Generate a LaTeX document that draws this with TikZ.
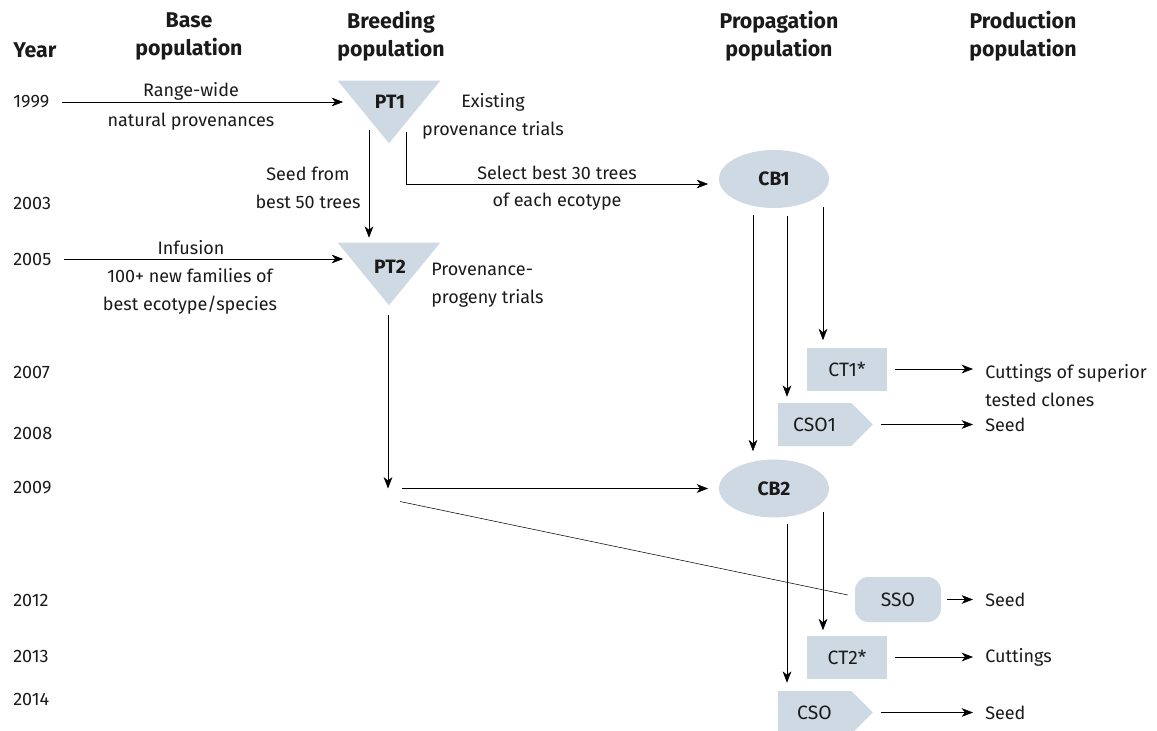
\documentclass[tikz,border=0pt]{standalone}
\usepackage{fontspec}
\setmainfont{Fira Sans}
\usepackage{xcolor}
\definecolor{Cloud}{HTML}{CFD9E4}
\definecolor{Ink}{HTML}{1A1A1A}
\colorlet{cFill}{Cloud}
\colorlet{cText}{Ink}
\usepackage{tikz}
\usetikzlibrary{calc, arrows.meta, shapes.geometric, shapes.symbols, positioning}
\tikzset{
	line width = .6pt,
	>={Stealth[length=8.5pt, width=6.5pt, inset=2.5pt]},
	font = \fontsize{13.5}{21}\selectfont,
	text = cText,
	heading/.style={
		font=\fontsize{16}{21}\selectfont\bfseries,
		align=center,
		inner sep=0pt
	},
	year/.style={
		anchor=west,
		inner sep=0pt
	},
	note/.style={
		align=center,
		inner sep=0pt
	},
	output/.style={
		anchor=west,
		align=left,
		inner ysep=0pt,
		inner xsep=9pt
	},
	unit/.style={
		fill=cFill,
		inner sep=0pt,
		font=\fontsize{14.5}{17}\selectfont
	},
	trial/.style={
		inner sep=0pt,
		minimum width=76.5pt,
		minimum height=46.5pt
	},
	triallabel/.style={
		inner sep=0pt,
		font=\fontsize{14.5}{17}\selectfont\bfseries
	},
	bank/.style={
		unit,
		ellipse,
		minimum width=82.5pt,
		minimum height=43.5pt,
		font=\fontsize{14.5}{17}\selectfont\bfseries
	},
	test/.style={
		unit,
		rectangle,
		minimum width=60pt,
		minimum height=32.25pt
	},
	orchard/.style={
		unit,
		signal,
		signal to=east,
		signal from=nowhere,
		signal pointer angle=90,
		minimum width=71.25pt,
		minimum height=32.25pt
	},
	stand/.style={
		unit,
		rectangle,
		rounded corners=10pt,
		minimum width=64.5pt,
		minimum height=33.75pt
	},
	edge/.style={
		->
	}
}

\begin{document}
\begin{tikzpicture}[x=.75pt, y=-.75pt]
	\useasboundingbox (0,0) rectangle (1157,731);

	% headings
	\node[heading, anchor=west] (hy) at (13,50) {Year};
	\node[heading] (hb) at (189,36) {Base\\population};
	\node[heading] (hr) at (391,36) {Breeding\\population};
	\node[heading] (hp) at (779,36) {Propagation\\population};
	\node[heading] (hd) at (1023,36) {Production\\population};

	\foreach \yr/\yy in {1999/102, 2003/203, 2005/259, 2007/372, 2008/433, 2009/488, 2012/600, 2013/656, 2014/699} {
		\node[year] (y\yr) at (13,\yy) {\yr};
	}

	% breeding population
	\node[trial] (PT1) at (389,112) {};
	\fill[cFill] (PT1.north west) -- (PT1.north east) -- (PT1.south) -- cycle;
	\node[triallabel] (PT1t) at (390,102) {PT1};

	\node[trial] (PT2) at (389,274) {};
	\fill[cFill] (PT2.north west) -- (PT2.north east) -- (PT2.south) -- cycle;
	\node[triallabel] (PT2t) at (390,267) {PT2};

	% propagation population
	\node[bank] (CB1) at (774,179) {CB1};
	\node[test] (CT1) at (847,369) {CT1*};
	\node[orchard] (CSO1) at (814.5,424.5) {CSO1};
	\node[bank] (CB2) at (774,488.5) {CB2};
	\node[stand] (SSO) at (898,599.5) {SSO};
	\node[test] (CT2) at (847,657) {CT2*};
	\node[orchard] (CSO) at (814.5,712.5) {CSO};

	% production population
	\node[output] (o1) at (973,385.5) {Cuttings of superior\\tested clones};
	\node[output] (o2) at (973,424.5) {Seed};
	\node[output] (o3) at (973,599.5) {Seed};
	\node[output] (o4) at (973,657) {Cuttings};
	\node[output] (o5) at (973,712.5) {Seed};

	% texts along the arrows
	\node[note] (rw) at (191,91) {Range-wide};
	\node[note] (np) at (191,122) {natural provenances};
	\node[note] (ex) at (493,116) {Existing\\provenance trials};
	\node[note] (sf) at (308,187.5) {Seed from\\best 50 trees};
	\node[note] (sb) at (557,173) {Select best 30 trees};
	\node[note] (ec) at (557,202) {of each ecotype};
	\node[note] (inf) at (191,248) {Infusion};
	\node[note] (nf) at (190,291) {100+ new families of\\best ecotype/species};
	\node[note, align=left, anchor=west] (pp) at (431,285) {Provenance-\\progeny trials};

	\coordinate (fork) at (388,488.5);

	\draw[edge, shorten <=9pt, shorten >=-4pt] (y1999.east) -- (y1999.east -| PT1.west);
	\draw[edge, shorten <=9pt, shorten >=-4pt] (y2005.east) -- (y2005.east -| PT2.west);
	\draw[edge] ($(PT1.south)+(-20,-13)$) -- ($(PT2.north)+(-20,-5)$);
	\draw[edge, shorten >=8pt] ($(PT1.south)+(17,-11)$) |- ($(CB1.west)+(0,5)$);
	\draw[edge] ($(PT2.south)+(-1,10)$) -- (fork);
	\draw[edge, shorten <=10.5pt, shorten >=8pt] (fork) -- (fork -| CB2.west);
	\draw ($(fork)+(12,13)$) -- ($(SSO.west)+(-7,-4.5)$);

	\draw[edge] ($(CB1.south)+(-21,7)$) -- ($(CB2.north)+(-21,-8)$);
	\draw[edge] ($(CB1.south)+(13,8)$) -- ($(CSO1.north)+(-27.5,-6)$);
	\draw[edge] ($(CB1.south)+(49,-1)$) -- ($(CT1.north)+(-24,-7)$);
	\draw[edge] ($(CB2.south)+(13,6.5)$) -- ($(CSO.north)+(-27.5,-8)$);
	\draw[edge] ($(CB2.south)+(49,-5.5)$) -- ($(CT2.north)+(-24,-5)$);

	\draw[edge, shorten <=6pt] (CT1) -- (CT1 -| o1.west);
	\draw[edge, shorten <=6pt] (CSO1) -- (CSO1 -| o2.west);
	\draw[edge, shorten <=4.5pt] (SSO) -- (SSO -| o3.west);
	\draw[edge, shorten <=6pt] (CT2) -- (CT2 -| o4.west);
	\draw[edge, shorten <=6pt] (CSO) -- (CSO -| o5.west);
\end{tikzpicture}
\end{document}
